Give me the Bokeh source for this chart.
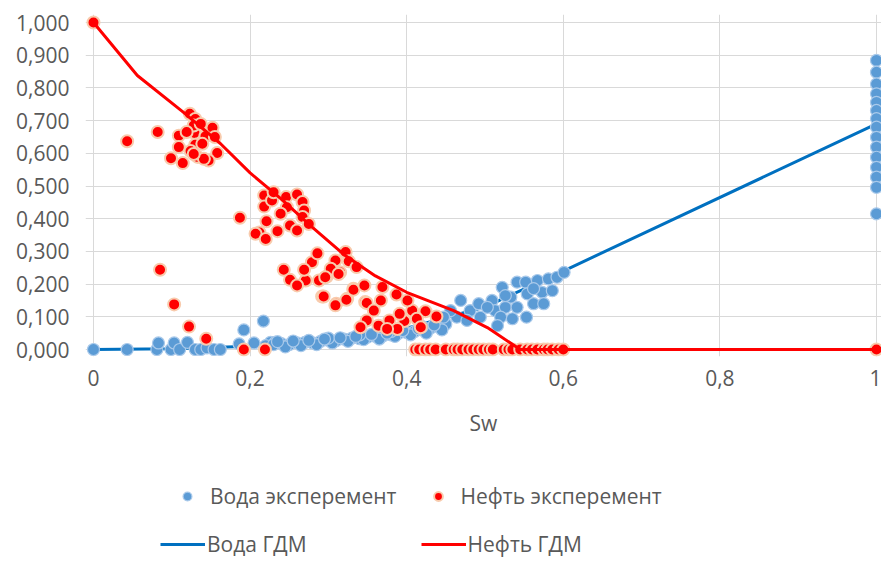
from bokeh.plotting import figure
from bokeh.layouts import column
from bokeh.models import (Range1d, FixedTicker, CustomJSTickFormatter, Legend, LegendItem)
from bokeh.core.properties import value
from bokeh.embed import file_html
from bokeh.resources import INLINE

# ---------------- data ----------------
water_exp_sw = [
    0.0, 0.043, 0.081, 0.083, 0.099, 0.103, 0.110, 0.120, 0.130, 0.137, 0.145, 0.154, 0.162,
    0.186, 0.192, 0.205, 0.217, 0.226, 0.232,
    0.22, 0.23, 0.24, 0.25, 0.26, 0.27, 0.28, 0.29, 0.30, 0.31, 0.32, 0.33, 0.34, 0.35,
    0.36, 0.37, 0.38, 0.39, 0.40, 0.41, 0.42, 0.43, 0.44, 0.45,
    0.245, 0.265, 0.285, 0.305, 0.325, 0.345, 0.365, 0.385, 0.405, 0.425, 0.445,
    0.30, 0.34, 0.38, 0.42,
    0.235, 0.255, 0.275, 0.295, 0.315, 0.335, 0.355, 0.375, 0.395, 0.415, 0.435,
    0.469, 0.464, 0.481, 0.492, 0.494, 0.477, 0.509, 0.513, 0.522, 0.533, 0.526, 0.520,
    0.535, 0.516, 0.541, 0.552, 0.554, 0.562, 0.553, 0.567, 0.573, 0.575, 0.581, 0.592,
    0.601, 0.456, 0.447, 0.503, 0.541, 0.562, 0.586, 0.526,
    1.0, 1.0, 1.0, 1.0, 1.0, 1.0, 1.0, 1.0, 1.0, 1.0, 1.0, 1.0, 1.0, 1.0, 1.0,
]
water_exp_kr = [
    0.0, 0.0, 0.0, 0.020, 0.0, 0.020, 0.0, 0.022, 0.0, 0.0, 0.005, 0.0, 0.0,
    0.017, 0.060, 0.020, 0.087, 0.022, 0.022,
    0.012, 0.015, 0.018, 0.015, 0.020, 0.022, 0.020, 0.025, 0.028, 0.027, 0.032, 0.035, 0.033, 0.038,
    0.040, 0.042, 0.045, 0.050, 0.052, 0.055, 0.060, 0.065, 0.070, 0.078,
    0.008, 0.012, 0.015, 0.020, 0.025, 0.030, 0.032, 0.040, 0.045, 0.050, 0.060,
    0.035, 0.045, 0.055, 0.070,
    0.024, 0.026, 0.028, 0.032, 0.036, 0.040, 0.046, 0.050, 0.058, 0.064, 0.075,
    0.150, 0.099, 0.119, 0.140, 0.099, 0.089, 0.150, 0.119, 0.190, 0.160, 0.129, 0.099,
    0.094, 0.073, 0.206, 0.206, 0.170, 0.140, 0.099, 0.211, 0.175, 0.140, 0.216, 0.221,
    0.236, 0.119, 0.099, 0.129, 0.129, 0.186, 0.180, 0.165,
    0.884, 0.848, 0.812, 0.782, 0.756, 0.731, 0.706, 0.680, 0.649, 0.619, 0.588, 0.557,
    0.527, 0.496, 0.415,
]

oil_exp_sw = [
    0.0,
    0.043, 0.082, 0.109, 0.129, 0.143, 0.152, 0.155, 0.109, 0.130, 0.124, 0.158, 0.099,
    0.114, 0.133, 0.147, 0.141, 0.123, 0.130, 0.128, 0.137, 0.119, 0.139, 0.128,
    0.187, 0.218, 0.218, 0.228, 0.246, 0.247, 0.260, 0.267, 0.269, 0.267, 0.221, 0.239,
    0.251, 0.235, 0.212, 0.207, 0.220, 0.260, 0.275, 0.230,
    0.243, 0.251, 0.271, 0.260, 0.279, 0.286, 0.269, 0.298, 0.309, 0.315, 0.322, 0.326,
    0.336, 0.292, 0.310, 0.324, 0.332, 0.347, 0.303, 0.288,
    0.296, 0.294, 0.309, 0.323, 0.332, 0.346, 0.349, 0.369, 0.387, 0.367, 0.358, 0.349,
    0.341, 0.364, 0.378, 0.397, 0.407, 0.424, 0.438, 0.391, 0.413, 0.418, 0.388, 0.375,
    0.401, 0.313,
    0.085, 0.103, 0.122, 0.144, 0.192, 0.219,
    0.411, 0.416, 0.424, 0.430, 0.437, 0.450, 0.460, 0.465, 0.471, 0.479, 0.485, 0.492,
    0.498, 0.505, 0.510, 0.524, 0.530, 0.535, 0.545, 0.554, 0.560, 0.567, 0.575, 0.580,
    0.586, 0.594, 0.600,
    1.0,
]
oil_exp_kr = [
    1.0,
    0.637, 0.665, 0.654, 0.662, 0.652, 0.678, 0.650, 0.619, 0.626, 0.607, 0.601, 0.585,
    0.570, 0.589, 0.578, 0.583, 0.721, 0.705, 0.685, 0.690, 0.665, 0.629, 0.598,
    0.403, 0.471, 0.437, 0.456, 0.466, 0.435, 0.474, 0.451, 0.425, 0.405, 0.392, 0.415,
    0.379, 0.362, 0.358, 0.354, 0.338, 0.364, 0.384, 0.481,
    0.244, 0.213, 0.211, 0.196, 0.267, 0.294, 0.244, 0.223, 0.272, 0.236, 0.298, 0.270,
    0.252, 0.162, 0.140, 0.155, 0.186, 0.145, 0.247, 0.211,
    0.221, 0.162, 0.135, 0.152, 0.183, 0.196, 0.142, 0.191, 0.168, 0.150, 0.119, 0.089,
    0.068, 0.073, 0.089, 0.087, 0.119, 0.117, 0.101, 0.109, 0.094, 0.068, 0.063, 0.063,
    0.150, 0.231,
    0.244, 0.138, 0.070, 0.033, 0.0, 0.0,
    0.0, 0.0, 0.0, 0.0, 0.0, 0.0, 0.0, 0.0, 0.0, 0.0, 0.0, 0.0,
    0.0, 0.0, 0.0, 0.0, 0.0, 0.0, 0.0, 0.0, 0.0, 0.0, 0.0, 0.0,
    0.0, 0.0, 0.0,
    0.0,
]

water_gdm_sw = [0.0, 0.1, 0.2, 0.3, 0.4, 0.5, 0.6, 1.0]
water_gdm_kr = [0.0, 0.002, 0.010, 0.030, 0.065, 0.130, 0.240, 0.690]

oil_gdm_sw = [0.0, 0.056, 0.115, 0.162, 0.2, 0.24, 0.28, 0.32, 0.36, 0.4, 0.46, 0.503, 0.545, 1.0]
oil_gdm_kr = [1.0, 0.838, 0.725, 0.630, 0.540, 0.460, 0.373, 0.290, 0.225, 0.175, 0.119, 0.067, 0.0, 0.0]

x_ticks = [0, 0.2, 0.4, 0.6, 0.8, 1.0]
y_ticks = [0, 0.1, 0.2, 0.3, 0.4, 0.5, 0.6, 0.7, 0.8, 0.9, 1.0]

labels = ["Вода эксперемент", "Нефть эксперемент", "Вода ГДМ", "Нефть ГДМ"]
x_title = "Sw"

# ---------------- styles ----------------
FONT = "Open Sans"
GREY = "#595959"
WATER_PT = dict(size=12, fill_color="#5b9bd5", line_color="#a9c9ea", line_width=1.2)
OIL_PT = dict(size=12, fill_color="#ff0000", line_color="#f8cbad", line_width=2)
WATER_LN = dict(line_color="#0070c0", line_width=3)
OIL_LN = dict(line_color="#ff0000", line_width=3)

# ---------------- main figure ----------------
p = figure(width=881, height=470, output_backend="svg", toolbar_location=None,
           x_range=Range1d(-0.0102, 1.0064), y_range=Range1d(-0.0214, 1.0245),
           min_border_left=85, min_border_right=0, min_border_top=14, min_border_bottom=114)
p.outline_line_color = None
p.background_fill_color = "white"
p.border_fill_color = "white"

p.xaxis.ticker = FixedTicker(ticks=x_ticks)
p.yaxis.ticker = FixedTicker(ticks=y_ticks)
p.xaxis.formatter = CustomJSTickFormatter(code="return String(Math.round(tick*10)/10).replace('.', ',');")
p.yaxis.formatter = CustomJSTickFormatter(code="return tick.toFixed(3).replace('.', ',');")

for ax in (p.xaxis, p.yaxis):
    ax.axis_line_color = None
    ax.major_tick_line_color = None
    ax.minor_tick_line_color = None
    ax.major_label_text_font = FONT
    ax.major_label_text_font_size = "21px"
    ax.major_label_text_color = GREY
p.yaxis.major_label_standoff = 10
p.xaxis.major_label_standoff = 7
p.xaxis.axis_label = x_title
p.xaxis.axis_label_text_font = FONT
p.xaxis.axis_label_text_font_size = "21px"
p.xaxis.axis_label_text_font_style = "normal"
p.xaxis.axis_label_text_color = GREY
p.xaxis.axis_label_standoff = 20

p.xgrid.grid_line_color = "#d9d9d9"
p.ygrid.grid_line_color = "#d9d9d9"

p.line(water_gdm_sw, water_gdm_kr, **WATER_LN)
p.scatter(water_exp_sw, water_exp_kr, **WATER_PT)
p.scatter(oil_exp_sw, oil_exp_kr, **OIL_PT)
p.line(oil_gdm_sw, oil_gdm_kr, **OIL_LN)

# ---------------- legend strip (separate figure, data kept out of view) ----------------
q = figure(width=881, height=91, output_backend="svg", toolbar_location=None,
           x_range=Range1d(10, 11), y_range=Range1d(10, 11),
           x_axis_location=None, y_axis_location=None,
           min_border_left=0, min_border_right=0, min_border_top=0, min_border_bottom=0)
q.outline_line_color = None
q.grid.visible = False
lq_wl = q.line(water_gdm_sw, water_gdm_kr, **WATER_LN)
lq_wp = q.scatter(water_exp_sw, water_exp_kr, **WATER_PT)
lq_op = q.scatter(oil_exp_sw, oil_exp_kr, **OIL_PT)
lq_ol = q.line(oil_gdm_sw, oil_gdm_kr, **OIL_LN)


def make_legend(items, x, y, gw, standoff, spacing):
    lg = Legend(items=[LegendItem(label=value(t), renderers=[r]) for t, r in items],
                location=(x, y), orientation="horizontal",
                glyph_width=gw, glyph_height=22, label_standoff=standoff,
                padding=0, margin=0, spacing=spacing, border_line_color=None,
                background_fill_alpha=0, label_text_font=FONT,
                label_text_font_size="21px", label_text_color=GREY, label_height=22,
                label_text_baseline="middle")
    q.add_layout(lg)


make_legend([(labels[0], lq_wp), (labels[1], lq_op)], 91, 51, 22, 12, 30)
make_legend([(labels[2], lq_wl), (labels[3], lq_ol)], 75, 3, 45, 2, 114)

open("out.html", "w").write(file_html(column(p, q, spacing=0), INLINE))
